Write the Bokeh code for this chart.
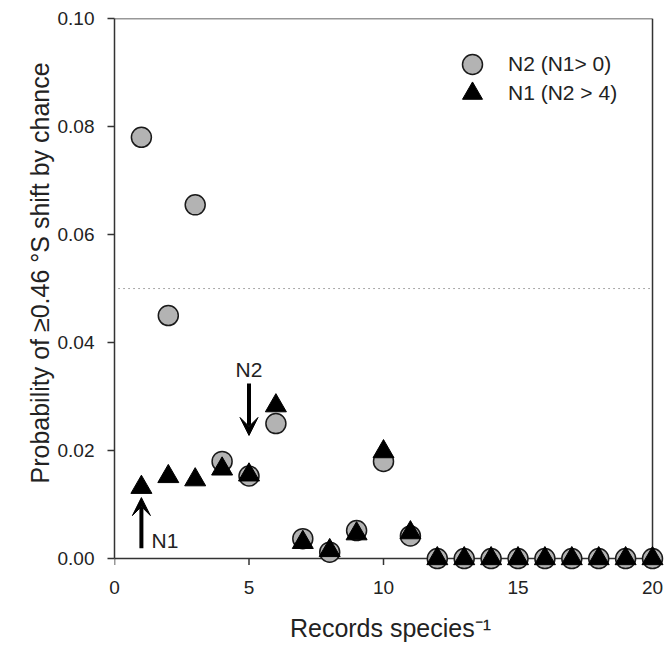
from bokeh.plotting import figure
from bokeh.models import (Range1d, FixedTicker, PrintfTickFormatter, Legend, LegendItem,
                          Label, Arrow, VeeHead, ColumnDataSource, Title)
from bokeh.embed import file_html
from bokeh.resources import INLINE

# ---- data ----
records = list(range(1, 21))
n2_prob = [0.078, 0.045, 0.0655, 0.018, 0.0153, 0.025, 0.0037, 0.0012, 0.0052, 0.018,
           0.0042, 0, 0, 0, 0, 0, 0, 0, 0, 0]
n1_prob = [0.0132, 0.0152, 0.0146, 0.0166, 0.0155, 0.0283, 0.0030, 0.0015, 0.0046, 0.0198,
           0.0048, 0, 0, 0, 0, 0, 0, 0, 0, 0]
threshold = 0.05
x_ticks = [0, 5, 10, 15, 20]
y_ticks = [0.0, 0.02, 0.04, 0.06, 0.08, 0.10]
legend_labels = ["N2 (N1> 0)", "N1 (N2 > 4)"]
x_title = "Records species\u207b\u00b9"
y_title = "Probability of \u22650.46 \u00b0S shift by chance"
# annotation arrows: (x, y_tail, y_tip)
n1_arrow = (1.0, 0.0019, 0.0113)
n2_arrow = (5.0, 0.0324, 0.0228)
n1_text = (1.38, 0.0033)
n2_text = (5.0, 0.0328)

FONT = "Liberation Sans"
AXC = "#333333"
TXC = "#222222"
TICK_LEN = 0.0012  # tick length below y=0, in data units

p = figure(width=666, height=649, output_backend="svg", toolbar_location=None,
           x_range=Range1d(0, 20.52), y_range=Range1d(-0.0022, 0.10),
           min_border_left=114, min_border_right=0, min_border_top=18, min_border_bottom=79)
p.outline_line_color = None
p.grid.visible = False
p.background_fill_color = "white"

for ax in (p.xaxis[0], p.yaxis[0]):
    ax.axis_line_color = AXC
    ax.axis_line_width = 1.5
    ax.major_tick_line_color = AXC
    ax.major_tick_line_width = 1.5
    ax.major_tick_out = 7
    ax.major_tick_in = 0
    ax.minor_tick_line_color = None
    ax.major_label_text_font = FONT
    ax.major_label_text_font_size = "19px"
    ax.major_label_text_color = TXC
    ax.axis_label_text_font = FONT
    ax.axis_label_text_font_size = "25px"
    ax.axis_label_text_font_style = "normal"
    ax.axis_label_text_color = TXC

# bottom axis: labels only (line and ticks drawn at y=0 below)
p.xaxis.ticker = FixedTicker(ticks=x_ticks)
p.xaxis.axis_line_color = None
p.xaxis.major_tick_line_color = None
p.xaxis.major_tick_out = 0
p.xaxis.major_label_standoff = 10
p.xaxis.axis_label = x_title
p.xaxis.axis_label_standoff = 17

p.yaxis.ticker = FixedTicker(ticks=y_ticks)
p.yaxis.formatter = PrintfTickFormatter(format="%.2f")
p.yaxis.bounds = (0, 0.10)
p.yaxis.major_label_standoff = 13

# y title on the left side, starting above the bottom like the original
p.add_layout(Title(text=y_title, align="left", offset=87, standoff=2,
                   text_font=FONT, text_font_size="25px", text_font_style="normal",
                   text_color=TXC), "left")

# x axis line at y=0, frame top and right lines
p.segment(x0=[0, 0, 20], y0=[0, 0.10, 0], x1=[20, 20, 20], y1=[0, 0.10, 0.10],
          line_color=AXC, line_width=1.5)
# x ticks at y=0
p.segment(x0=x_ticks, y0=[0] * len(x_ticks), x1=x_ticks, y1=[-TICK_LEN] * len(x_ticks),
          line_color=AXC, line_width=1.5)
# dotted threshold line
p.segment(x0=[0.15], y0=[threshold], x1=[20], y1=[threshold],
          line_color="#555555", line_width=1, line_dash="1 4")

src = ColumnDataSource(dict(x=records, n2=n2_prob, n1=n1_prob))
r_n2 = p.scatter("x", "n2", source=src, marker="circle", size=20,
                 fill_color="#b3b3b3", line_color="#1a1a1a", line_width=1.5)
r_n1 = p.scatter("x", "n1", source=src, marker="triangle", size=21,
                 fill_color="black", line_color="black", line_width=1)

# arrows and labels
for (ax_, y0, y1) in (n1_arrow, n2_arrow):
    p.add_layout(Arrow(end=VeeHead(size=18, fill_color="black", line_color="black", line_width=1),
                       x_start=ax_, y_start=y0, x_end=ax_, y_end=y1,
                       line_width=4, line_color="black"))
p.add_layout(Label(x=n1_text[0], y=n1_text[1], text="N1", text_font=FONT, text_font_size="21px",
                   text_color=TXC, text_baseline="middle", text_align="left"))
p.add_layout(Label(x=n2_text[0], y=n2_text[1], text="N2", text_font=FONT, text_font_size="21px",
                   text_color=TXC, text_baseline="bottom", text_align="center"))

# legends (one per item so each glyph can be large)
for i, (lab, rend) in enumerate(zip(legend_labels, [r_n2, r_n1])):
    lg = Legend(items=[LegendItem(label=lab, renderers=[rend])],
                location=(333, 481 - 29 * i), glyph_width=50, glyph_height=50,
                label_standoff=11, padding=0, margin=0, spacing=0,
                label_text_font=FONT, label_text_font_size="21px", label_text_color=TXC,
                background_fill_alpha=0, border_line_alpha=0)
    p.add_layout(lg)

open("out.html", "w").write(file_html(p, INLINE))
